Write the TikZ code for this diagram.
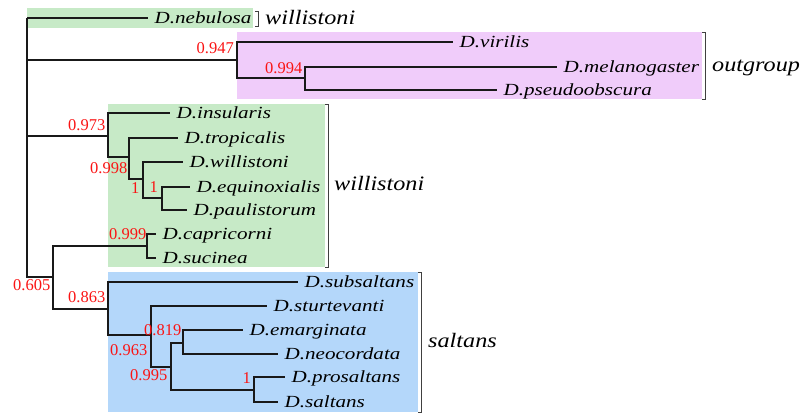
\documentclass[tikz,border=0pt]{standalone}
\usepackage{fontspec}
\setmainfont{Liberation Serif}
\usetikzlibrary{calc}

\definecolor{cladegreen}{RGB}{199,234,199}
\definecolor{cladepink}{RGB}{240,204,250}
\definecolor{cladeblue}{RGB}{180,215,250}
\definecolor{supred}{RGB}{250,20,20}
\definecolor{inkline}{RGB}{25,25,25}

% horizontally widened species / clade names
\newcommand{\spname}[1]{\scalebox{1.24}[1]{#1}}
\newcommand{\cladename}[1]{\scalebox{1.18}[1]{#1}}

\begin{document}
\begin{tikzpicture}[x=1pt,y=-1pt,
  branch/.style={line width=1.2pt, inkline},
  bracket/.style={line width=0.9pt, black!75},
  taxon/.style={anchor=base west, inner sep=0pt, xshift=6.5pt, yshift=-5.6pt,
                font=\itshape\fontsize{17}{17}\selectfont},
  support/.style={anchor=base east, inner sep=0pt, text=supred,
                  font=\fontsize{16.5}{16.5}\selectfont},
  clade/.style={anchor=base west, inner sep=0pt,
                font=\itshape\fontsize{20.5}{20.5}\selectfont}]
\useasboundingbox (0,0) rectangle (806,414);

% clade shading
\fill[cladegreen] (27,8) rectangle (253,28);
\fill[cladepink]  (237,32) rectangle (702,99);
\fill[cladegreen] (108,104) rectangle (325,267);
\fill[cladeblue]  (108,272) rectangle (418,412);

% clade brackets
\draw[bracket] (255,11) -- (258,11) -- (258,26) -- (255,26);
\draw[bracket] (702,32) -- (705,32) -- (705,99) -- (702,99);
\draw[bracket] (325,104) -- (328,104) -- (328,267) -- (325,267);
\draw[bracket] (418,272) -- (421,272) -- (421,412) -- (418,412);

% internal nodes (x of the node, y of its stem)
\coordinate (root) at (27,18);
\coordinate (og)   at (237,60);
\coordinate (n994) at (305,78);
\coordinate (wil)  at (108,136);
\coordinate (n998) at (129,157);
\coordinate (n1a)  at (143,179);
\coordinate (n1b)  at (162,198);
\coordinate (n605) at (53,277);
\coordinate (n999) at (147,246);
\coordinate (sal)  at (108,309);
\coordinate (n963) at (151,335);
\coordinate (n995) at (171,367);
\coordinate (n819) at (183,343);
\coordinate (n1c)  at (254,390);

% leaves
\coordinate (neb) at (148,18);
\coordinate (vir) at (453,42);
\coordinate (mel) at (557,67);
\coordinate (pse) at (497,90);
\coordinate (ins) at (170,113);
\coordinate (tro) at (178,138);
\coordinate (wis) at (183,162);
\coordinate (equ) at (190,187);
\coordinate (pau) at (187,210);
\coordinate (cap) at (156,234);
\coordinate (suc) at (156,258);
\coordinate (sub) at (298,282);
\coordinate (stu) at (267,306);
\coordinate (ema) at (243,330);
\coordinate (neo) at (278,354);
\coordinate (pro) at (285,377);
\coordinate (slt) at (278,402);

% branches
\draw[branch] (root) |- (neb);
\draw[branch] (root) |- (og);
\draw[branch] (root) |- (wil);
\draw[branch] (root) |- (n605);
\draw[branch] (og) |- (vir);
\draw[branch] (og) |- (n994);
\draw[branch] (n994) |- (mel);
\draw[branch] (n994) |- (pse);
\draw[branch] (wil) |- (ins);
\draw[branch] (wil) |- (n998);
\draw[branch] (n998) |- (tro);
\draw[branch] (n998) |- (n1a);
\draw[branch] (n1a) |- (wis);
\draw[branch] (n1a) |- (n1b);
\draw[branch] (n1b) |- (equ);
\draw[branch] (n1b) |- (pau);
\draw[branch] (n605) |- (n999);
\draw[branch] (n605) |- (sal);
\draw[branch] (n999) |- (cap);
\draw[branch] (n999) |- (suc);
\draw[branch] (sal) |- (sub);
\draw[branch] (sal) |- (n963);
\draw[branch] (n963) |- (stu);
\draw[branch] (n963) |- (n995);
\draw[branch] (n995) |- (n819);
\draw[branch] (n995) |- (n1c);
\draw[branch] (n819) |- (ema);
\draw[branch] (n819) |- (neo);
\draw[branch] (n1c) |- (pro);
\draw[branch] (n1c) |- (slt);

% species names
\node[taxon] (lneb) at (neb) {\spname{D.nebulosa}};
\node[taxon] (lvir) at (vir) {\spname{D.virilis}};
\node[taxon] (lmel) at (mel) {\spname{D.melanogaster}};
\node[taxon] (lpse) at (pse) {\spname{D.pseudoobscura}};
\node[taxon] (lins) at (ins) {\spname{D.insularis}};
\node[taxon] (ltro) at (tro) {\spname{D.tropicalis}};
\node[taxon] (lwis) at (wis) {\spname{D.willistoni}};
\node[taxon] (lequ) at (equ) {\spname{D.equinoxialis}};
\node[taxon] (lpau) at (pau) {\spname{D.paulistorum}};
\node[taxon] (lcap) at (cap) {\spname{D.capricorni}};
\node[taxon] (lsuc) at (suc) {\spname{D.sucinea}};
\node[taxon] (lsub) at (sub) {\spname{D.subsaltans}};
\node[taxon] (lstu) at (stu) {\spname{D.sturtevanti}};
\node[taxon] (lema) at (ema) {\spname{D.emarginata}};
\node[taxon] (lneo) at (neo) {\spname{D.neocordata}};
\node[taxon] (lpro) at (pro) {\spname{D.prosaltans}};
\node[taxon] (lslt) at (slt) {\spname{D.saltans}};

% posterior supports
\node[support] (s947) at (234,53.6)  {0.947};
\node[support] (s994) at (302.5,73.6) {0.994};
\node[support] (s973) at (105.5,130.6) {0.973};
\node[support] (s998) at (127.5,173.6) {0.998};
\node[support] (s1a)  at (139.5,193.6) {1};
\node[support] (s1b)  at (158,192.6) {1};
\node[support] (s999) at (146.5,239.6) {0.999};
\node[support] (s605) at (50.5,290.6) {0.605};
\node[support] (s863) at (105.5,302.6) {0.863};
\node[support] (s963) at (147.5,355.6) {0.963};
\node[support] (s995) at (167.5,380.6) {0.995};
\node[support] (s819) at (181.5,335.6) {0.819};
\node[support] (s1c)  at (251,383.6) {1};

% group names
\node[clade] (gneb) at (265,24.5) {\cladename{willistoni}};
\node[clade] (gout) at (712,72)   {\cladename{outgroup}};
\node[clade] (gwil) at (334,191)  {\cladename{willistoni}};
\node[clade] (gsal) at (428,347)  {\cladename{saltans}};
\end{tikzpicture}
\end{document}
